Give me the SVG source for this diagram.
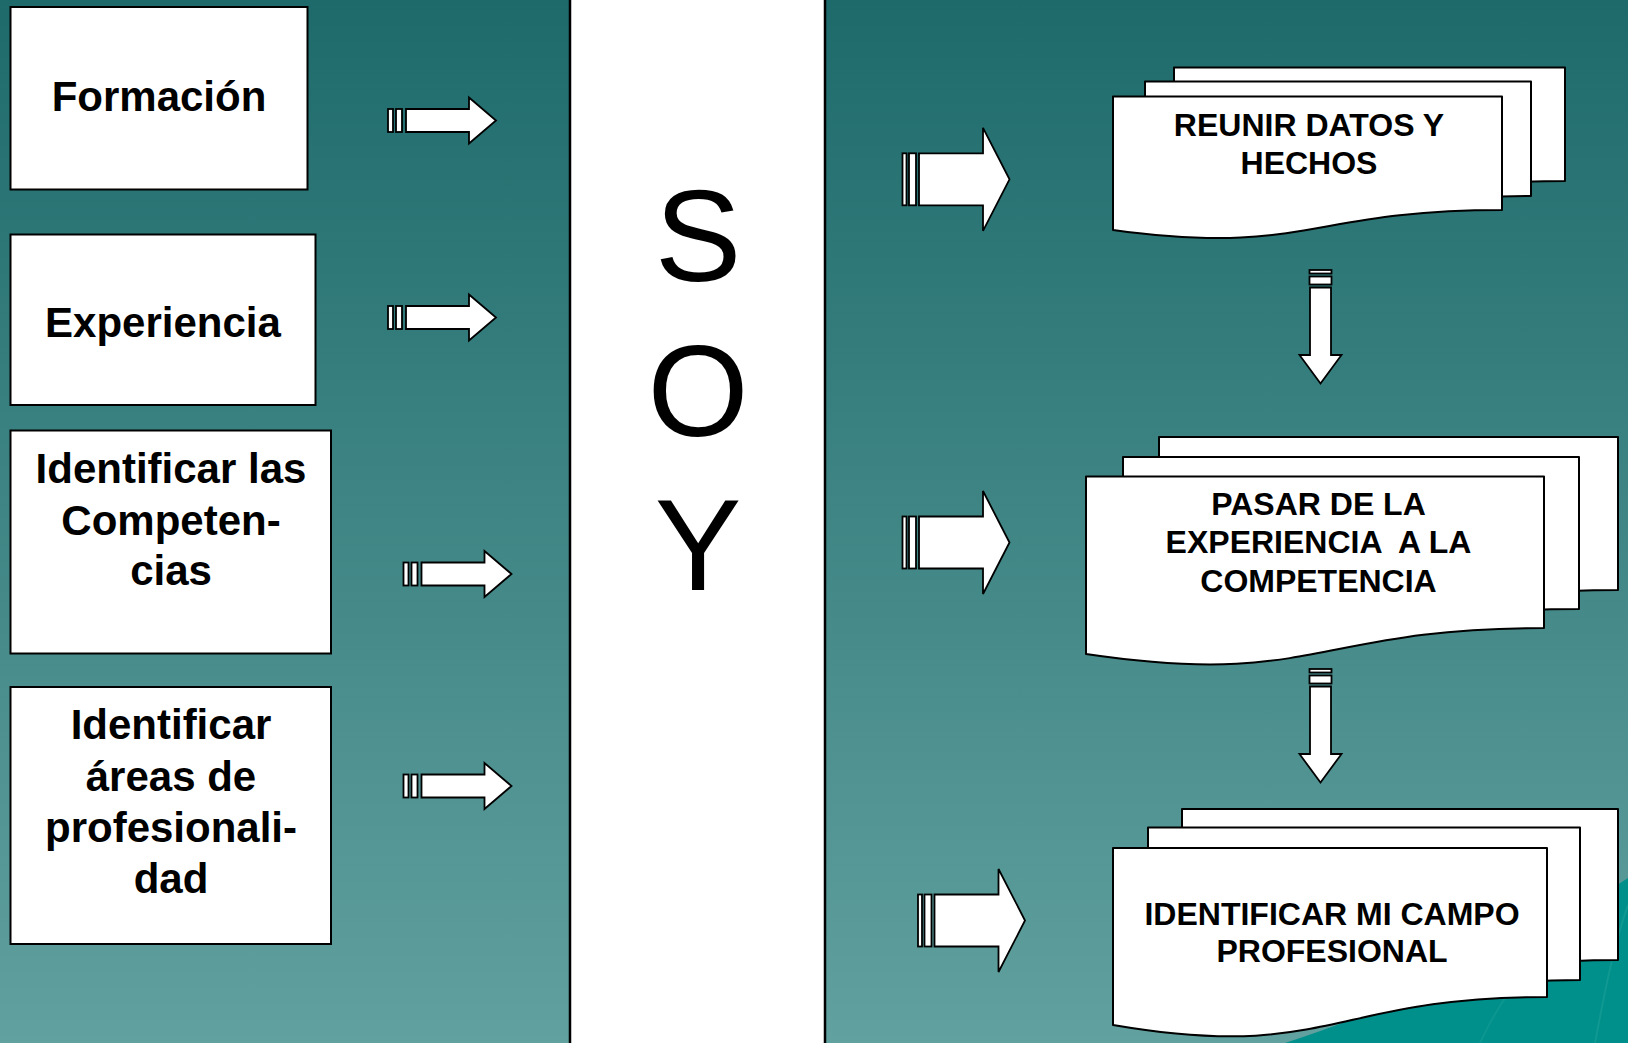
<svg xmlns="http://www.w3.org/2000/svg" xmlns:xlink="http://www.w3.org/1999/xlink" width="1628" height="1043" viewBox="0 0 1628 1043">
<defs>
<linearGradient id="bg" x1="0" y1="0" x2="0" y2="1">
<stop offset="0" stop-color="#1e6a6b"/>
<stop offset="1" stop-color="#61a19f"/>
</linearGradient>
<g id="arrowS">
<rect x="0" y="-11.5" width="5" height="23"/>
<rect x="8" y="-11.5" width="6" height="23"/>
<path d="M18,-11.5 H81 V-23 L108,0 L81,23 V11.5 H18 Z"/>
</g>
<g id="arrowB">
<rect x="0" y="-26" width="4" height="52"/>
<rect x="6.5" y="-26" width="7" height="52"/>
<path d="M16.5,-26 H80.5 V-51.5 L107,0 L80.5,51.5 V26 H16.5 Z"/>
</g>
<g id="arrowD">
<rect x="-11" y="0" width="22" height="3.5"/>
<rect x="-11" y="6.5" width="22" height="8"/>
<path d="M-10.5,17.5 H10.5 V85 H21 L0,113.5 L-21,85 H-10.5 Z"/>
</g>
</defs>
<style>
.box{fill:#fff;stroke:#000;stroke-width:2}
.page{fill:#fff;stroke:#000;stroke-width:2;stroke-linejoin:round}
.arr{fill:#fff;stroke:#000;stroke-width:1.8;stroke-linejoin:miter}
.lbl{font-family:"Liberation Sans",Arial,sans-serif;font-weight:bold;font-size:42px;fill:#000;text-anchor:middle}
.doc{font-family:"Liberation Sans",Arial,sans-serif;font-weight:bold;font-size:32px;fill:#000;text-anchor:middle;white-space:pre}
.soy{font-family:"Liberation Sans",Arial,sans-serif;font-size:130px;fill:#000;text-anchor:middle}
</style>

<rect x="0" y="0" width="1628" height="1043" fill="url(#bg)"/>
<path d="M1285,1043 C1380,1012 1500,962 1628,878 L1628,1043 Z" fill="#00908b"/>
<path d="M1595,1043 C1605,990 1615,940 1628,905" fill="none" stroke="#1fa09a" stroke-width="2" opacity="0.5"/>
<path d="M1480,1043 C1500,1000 1520,975 1545,955" fill="none" stroke="#1fa09a" stroke-width="2" opacity="0.4"/>

<g id="soy-column">
<rect x="570" y="-2" width="255" height="1047" fill="#fff"/>
<line x1="570" y1="0" x2="570" y2="1043" stroke="#000" stroke-width="2.5"/>
<line x1="825" y1="0" x2="825" y2="1043" stroke="#000" stroke-width="2.5"/>
<text class="soy" x="698" y="281">S</text>
<text class="soy" x="698" y="436">O</text>
<text class="soy" x="698" y="590">Y</text>
</g>

<g id="formacion">
<rect class="box" x="10.5" y="7" width="297" height="182.5"/>
<text class="lbl" x="159" y="111">Formación</text>
</g>
<g id="experiencia">
<rect class="box" x="10.5" y="234.5" width="305" height="170.5"/>
<text class="lbl" x="163" y="337">Experiencia</text>
</g>
<g id="competencias">
<rect class="box" x="10.5" y="430.5" width="320.5" height="223"/>
<text class="lbl" x="171" y="483">Identificar las</text>
<text class="lbl" x="171" y="535">Competen-</text>
<text class="lbl" x="171" y="585">cias</text>
</g>
<g id="areas">
<rect class="box" x="10.5" y="687" width="320.5" height="257"/>
<text class="lbl" x="171" y="739">Identificar</text>
<text class="lbl" x="171" y="791">áreas de</text>
<text class="lbl" x="171" y="842">profesionali-</text>
<text class="lbl" x="171" y="893">dad</text>
</g>

<g id="reunir-datos">
<path class="page" d="M1174,67.5 H1565 V181 C1369.5,181 1369.5,227 1174,201 Z"/>
<path class="page" d="M1145,81.5 H1531 V196 C1338,196 1338,242 1145,216 Z"/>
<path class="page" d="M1113,96.5 H1502 V210 C1307.5,210 1307.5,256.3 1113,230 Z"/>
<text class="doc" x="1309" y="136">REUNIR DATOS Y</text>
<text class="doc" x="1309" y="174">HECHOS</text>
</g>

<g id="pasar-competencia">
<path class="page" d="M1159,437 H1618 V590 C1388.5,590 1388.5,650 1159,616 Z"/>
<path class="page" d="M1123,457 H1579 V609 C1351,609 1351,669 1123,635 Z"/>
<path class="page" d="M1086,476.5 H1544 V628 C1315,628 1315,688 1086,654 Z"/>
<text class="doc" x="1318.5" y="515">PASAR DE LA</text>
<text class="doc" x="1318.5" y="553">EXPERIENCIA  A LA</text>
<text class="doc" x="1318.5" y="592">COMPETENCIA</text>
</g>

<g id="campo-profesional">
<path class="page" d="M1182,809 H1618 V960 C1400,960 1400,1025 1182,988 Z"/>
<path class="page" d="M1148,827.5 H1580 V980 C1364,980 1364,1045 1148,1008 Z"/>
<path class="page" d="M1113,848 H1547 V997 C1330,997 1330,1062 1113,1025 Z"/>
<text class="doc" x="1332" y="925">IDENTIFICAR MI CAMPO</text>
<text class="doc" x="1332" y="962">PROFESIONAL</text>
</g>

<g id="connectors" class="arr">
<use xlink:href="#arrowS" href="#arrowS" transform="translate(388,120.5)"/>
<use xlink:href="#arrowS" href="#arrowS" transform="translate(388,317.5)"/>
<use xlink:href="#arrowS" href="#arrowS" transform="translate(403.5,574)"/>
<use xlink:href="#arrowS" href="#arrowS" transform="translate(403.5,786)"/>
<use xlink:href="#arrowB" href="#arrowB" transform="translate(902.5,179.3)"/>
<use xlink:href="#arrowB" href="#arrowB" transform="translate(902.5,542.5)"/>
<use xlink:href="#arrowB" href="#arrowB" transform="translate(918,920.5)"/>
<use xlink:href="#arrowD" href="#arrowD" transform="translate(1320.5,270)"/>
<use xlink:href="#arrowD" href="#arrowD" transform="translate(1320.5,669)"/>
</g>
</svg>
